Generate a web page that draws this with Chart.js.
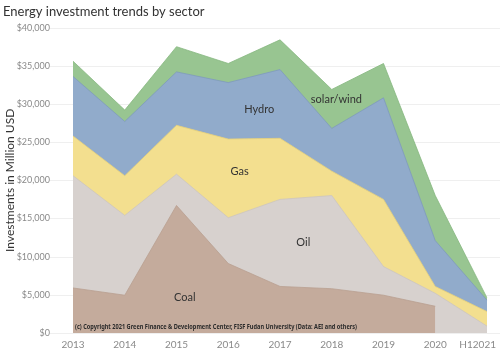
<!DOCTYPE html>
<html>
<head>
<meta charset="utf-8">
<script src="https://cdn.jsdelivr.net/npm/chart.js@4.4.1/dist/chart.umd.min.js"></script>
<style>
  html, body { margin: 0; padding: 0; background: #fff; overflow: hidden; }
  #wrap { width: 500px; height: 353px; position: relative; }
</style>
</head>
<body>
<div id="wrap"><canvas id="energyChart"></canvas></div>
<script>
// --- данные: инвестиции по секторам, млн USD ---
const YEARS = ['2013', '2014', '2015', '2016', '2017', '2018', '2019', '2020', 'H12021'];
const COAL       = [5900, 4950, 16700, 9100, 6100, 5800, 4950, 3500, null];
const OIL        = [14700, 10450, 4100, 6000, 11400, 12200, 3750, 1700, 900];
const GAS        = [5200, 5200, 6400, 10300, 8000, 3200, 8800, 900, 1900];
const HYDRO      = [7800, 7100, 7000, 7400, 9000, 5600, 13300, 6000, 1500];
const SOLAR_WIND = [2000, 1500, 3300, 2500, 3900, 5100, 4500, 5900, 300];

const Y_MAX = 40000;
const Y_STEP = 5000;

const SECTOR_NAMES = ['Coal', 'Oil', 'Gas', 'Hydro', 'solar/wind'];
const COPYRIGHT = '(c) Copyright 2021 Green Finance & Development Center, FISF Fudan University (Data: AEI and others)';

// подписи внутри областей: позиция в координатах осей (индекс года, значение)
const AREA_LABELS = [
    { text: 'Coal', x: 2.16, y: 4700 },
    { text: 'Oil', x: 4.45, y: 11850 },
    { text: 'Gas', x: 3.22, y: 21200 },
    { text: 'Hydro', x: 3.6, y: 29300 },
    { text: 'solar/wind', x: 5.09, y: 30600 }
];

const FONT = 'Lato, "Open Sans", sans-serif';

// горизонтальная сетка на всю ширину (как в Tableau)
const gridPlugin = {
    id: 'wideGrid',
    beforeDatasetsDraw(chart) {
        const ctx = chart.ctx;
        const y = chart.scales.y;
        ctx.save();
        ctx.strokeStyle = '#efefef';
        ctx.lineWidth = 1;
        y.ticks.forEach(t => {
            const py = Math.round(y.getPixelForValue(t.value)) + 0.5;
            ctx.beginPath();
            ctx.moveTo(50, py);
            ctx.lineTo(chart.width, py);
            ctx.stroke();
        });
        ctx.restore();
    }
};

// названия секторов, подписи годов и копирайт
const labelPlugin = {
    id: 'areaLabels',
    afterDatasetsDraw(chart) {
        const ctx = chart.ctx;
        const xs = chart.scales.x;
        const ys = chart.scales.y;
        const area = chart.chartArea;
        ctx.save();
        ctx.fillStyle = '#333';
        ctx.font = '11px ' + FONT;
        ctx.textAlign = 'center';
        ctx.textBaseline = 'middle';
        AREA_LABELS.forEach(l => {
            ctx.fillText(l.text, xs.getPixelForValue(l.x), ys.getPixelForValue(l.y));
        });

        // годы по оси X (последний прижат, чтобы не обрезался)
        ctx.fillStyle = '#8a8a8a';
        ctx.font = '10px ' + FONT;
        YEARS.forEach((year, i) => {
            const w = ctx.measureText(year).width;
            let cx = xs.getPixelForValue(i);
            if (cx + w / 2 > chart.width - 4) cx = chart.width - 4 - w / 2;
            ctx.fillText(year, cx, area.bottom + 12);
        });

        // копирайт, слегка сжатый по ширине
        ctx.font = 'bold 7px "Noto Sans", sans-serif';
        ctx.textAlign = 'left';
        ctx.fillStyle = '#2b2b2b';
        const cw = ctx.measureText(COPYRIGHT).width;
        const sx = 282 / cw;
        ctx.translate(area.left + 2, area.bottom - 6);
        ctx.scale(sx, 1);
        ctx.fillText(COPYRIGHT, 0, 0);
        ctx.restore();
    }
};

function makeArea(label, data, fillColor, lineColor) {
    return {
        label: label,
        data: data,
        backgroundColor: fillColor,
        borderColor: lineColor,
        borderWidth: 0.8,
        fill: 'origin',
        pointRadius: 0,
        tension: 0
    };
}

function drawEnergyChart() {
    const ctx = document.getElementById('energyChart');

    new Chart(ctx, {
        type: 'line',
        data: {
            labels: YEARS,
            datasets: [
                makeArea(SECTOR_NAMES[0], COAL, '#c4ab9c', '#b9a091'),
                makeArea(SECTOR_NAMES[1], OIL, '#d7d1ce', '#ccc5c2'),
                makeArea(SECTOR_NAMES[2], GAS, '#f3df8f', '#e6d07c'),
                makeArea(SECTOR_NAMES[3], HYDRO, '#91abcb', '#7f9bbd'),
                makeArea(SECTOR_NAMES[4], SOLAR_WIND, '#98c591', '#86b880')
            ]
        },
        options: {
            responsive: true,
            maintainAspectRatio: false,
            animation: false,
            layout: { padding: { top: 0, left: 3, right: 13, bottom: 0 } },
            plugins: {
                legend: { display: false },
                tooltip: { enabled: false },
                title: {
                    display: true,
                    text: 'Energy investment trends by sector',
                    align: 'start',
                    color: '#333',
                    font: { family: FONT, size: 13, weight: 'normal' },
                    padding: { top: 4, bottom: 8 }
                }
            },
            scales: {
                x: {
                    grid: { display: false },
                    border: { display: false },
                    ticks: { display: false },
                    afterFit(scale) {
                        scale.paddingLeft = 0;
                        scale.paddingRight = 0;
                        scale.height = 20;
                    }
                },
                y: {
                    stacked: true,
                    min: 0,
                    max: Y_MAX,
                    grid: { display: false, drawTicks: false },
                    border: { display: false },
                    ticks: {
                        stepSize: Y_STEP,
                        color: '#8a8a8a',
                        font: { family: FONT, size: 9 },
                        padding: 23,
                        callback: v => '$' + v.toLocaleString('en-US')
                    },
                    title: {
                        display: true,
                        text: 'Investments in Million USD',
                        color: '#333',
                        font: { family: FONT, size: 12 },
                        padding: { top: 0, bottom: 0 }
                    },
                    afterFit(scale) {
                        scale.width = 70;
                        scale.paddingTop = 0;
                        scale.paddingBottom = 0;
                    }
                }
            }
        },
        plugins: [gridPlugin, labelPlugin]
    });
}

document.addEventListener('DOMContentLoaded', () => {
    drawEnergyChart();
});
</script>
</body>
</html>
